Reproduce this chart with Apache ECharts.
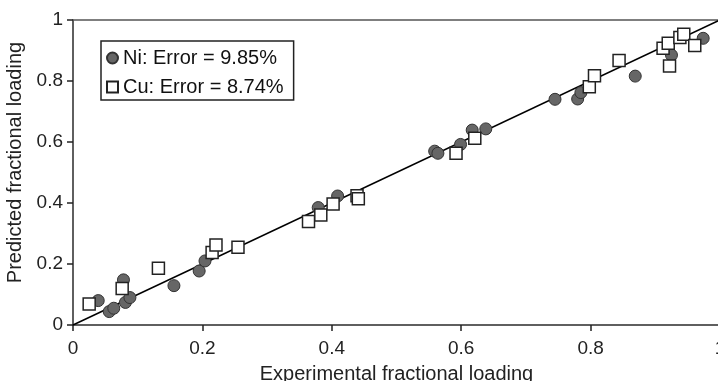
<!DOCTYPE html>
<html>
<head>
<meta charset="utf-8">
<script src="https://cdn.jsdelivr.net/npm/echarts@6/dist/echarts.min.js"></script>
<style>
  html, body { margin: 0; padding: 0; background: #fff; }
  #chart { width: 718px; height: 381px; }
</style>
</head>
<body>
<div id="chart"></div>
<script>
// Ni points: [experimental, predicted]
const niPoints = [
  [0.039, 0.080], [0.056, 0.044], [0.063, 0.055], [0.078, 0.148],
  [0.081, 0.074], [0.088, 0.090], [0.156, 0.129], [0.195, 0.177],
  [0.204, 0.210], [0.379, 0.385], [0.409, 0.423], [0.559, 0.570],
  [0.564, 0.563], [0.599, 0.592], [0.617, 0.639], [0.638, 0.643],
  [0.745, 0.740], [0.780, 0.741], [0.785, 0.762], [0.869, 0.816],
  [0.925, 0.885], [0.974, 0.940]
];
// Cu points: [experimental, predicted]
const cuPoints = [
  [0.025, 0.069], [0.076, 0.120], [0.132, 0.186], [0.215, 0.238],
  [0.221, 0.262], [0.255, 0.255], [0.364, 0.339], [0.383, 0.361],
  [0.402, 0.397], [0.439, 0.424], [0.441, 0.414], [0.592, 0.563],
  [0.621, 0.612], [0.798, 0.781], [0.806, 0.817], [0.844, 0.867],
  [0.912, 0.907], [0.920, 0.924], [0.922, 0.849], [0.938, 0.943],
  [0.944, 0.953], [0.961, 0.916]
];
const parityLine = [[0, 0], [1, 1]];
const niName = "Ni: Error = 9.85%";
const cuName = "Cu: Error = 8.74%";
const xTitle = "Experimental fractional loading";
const yTitle = "Predicted fractional loading";

const chart = echarts.init(document.getElementById("chart"), null, { renderer: "canvas" });
const font = "'Liberation Sans', Arial, sans-serif";
const axisGrey = "#555";

chart.setOption({
  animation: false,
  textStyle: { fontFamily: font },
  grid: {
    left: 73, top: 20, width: 647, height: 305,
    outerBoundsMode: "none",
    show: true, borderColor: axisGrey, borderWidth: 1.5, backgroundColor: "#fff"
  },
  legend: {
    data: [niName, cuName],
    orient: "vertical",
    left: 101, top: 41,
    padding: [7, 10, 3, 5],
    itemGap: 9,
    itemWidth: 11, itemHeight: 11,
    itemTextGap: 5,
    borderColor: "#222", borderWidth: 1.5,
    textStyle: { fontSize: 20, color: "#111" }
  },
  xAxis: {
    type: "value", min: 0, max: 1, interval: 0.2,
    name: xTitle, nameLocation: "middle", nameGap: 39,
    nameTextStyle: { fontSize: 20, color: "#222" },
    axisLine: { lineStyle: { color: axisGrey, width: 1.5 } },
    axisTick: { show: true, length: 6, lineStyle: { color: "#222", width: 1.5 } },
    axisLabel: { fontSize: 19, color: "#222", margin: 14 },
    splitLine: { show: false }
  },
  yAxis: {
    type: "value", min: 0, max: 1, interval: 0.2,
    name: yTitle, nameLocation: "middle", nameGap: 47,
    nameTextStyle: { fontSize: 20, color: "#222", padding: [0, 0, 0, 20] },
    axisLine: { show: true, lineStyle: { color: axisGrey, width: 1.5 } },
    axisTick: { show: true, length: 6, lineStyle: { color: "#222", width: 1.5 } },
    axisLabel: { fontSize: 19, color: "#222", margin: 10 },
    splitLine: { show: false }
  },
  series: [
    {
      type: "line", data: parityLine, symbol: "none", silent: true,
      lineStyle: { color: "#000", width: 1.5 }, z: 1
    },
    {
      name: cuName, type: "scatter", data: cuPoints,
      symbol: "rect", symbolSize: 12,
      itemStyle: { color: "#fff", borderColor: "#222", borderWidth: 1.5, opacity: 1 }, z: 3
    },
    {
      name: niName, type: "scatter", data: niPoints,
      symbol: "circle", symbolSize: 12,
      itemStyle: { color: "#666", borderColor: "#333", borderWidth: 1, opacity: 1 }, z: 2
    }
  ]
});
</script>
</body>
</html>
